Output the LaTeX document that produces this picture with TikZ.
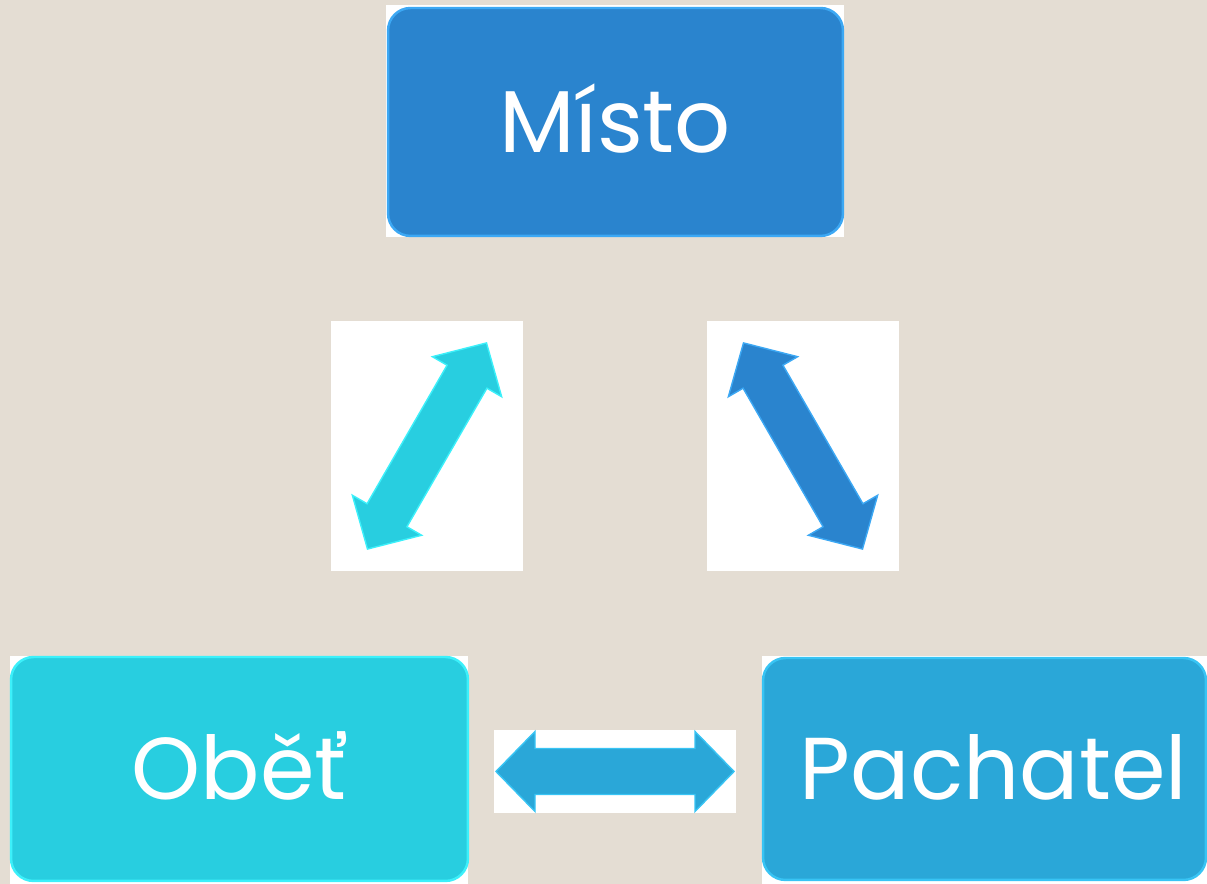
\documentclass[tikz,border=0pt]{standalone}
\usepackage{fontspec}
\setmainfont{Poppins}
\definecolor{pozadi}{HTML}{E4DDD3}
\definecolor{mistoc}{HTML}{2A84CE}
\definecolor{mistoe}{HTML}{3CA8F4}
\definecolor{obetc}{HTML}{28CEE0}
\definecolor{obete}{HTML}{3CF0FA}
\definecolor{pachc}{HTML}{2AA7D8}
\definecolor{pache}{HTML}{38C4F4}
\tikzset{
  panel/.style={fill=white, inner sep=0pt},
  box/.style={rounded corners=0.45cm, inner sep=0pt, text=white,
    font=\fontsize{50}{60}\selectfont, text height=35pt, text depth=0pt,
    line width=1.4pt},
  dblarrow/.pic={
    \path[pic actions] (-119,0) -- (-80,40) -- (-80,23) -- (80,23) -- (80,40)
      -- (119,0) -- (80,-40) -- (80,-23) -- (-80,-23) -- (-80,-40) -- cycle;
  }
}
\begin{document}
\begin{tikzpicture}[x=0.02cm, y=0.02cm]
    % Pozadí
    \fill[pozadi] (0,0) rectangle (1207,884);
    \useasboundingbox (0,0) rectangle (1207,884);
    \clip (0,0) rectangle (1207,884);

    % Bílé plochy
    \node[panel, minimum width=9.16cm, minimum height=4.64cm] (mistoP) at (615,763) {};
    \node[panel, minimum width=9.16cm, minimum height=4.6cm] (obetP) at (239,113) {};
    \node[panel, minimum width=8.96cm, minimum height=4.6cm] (pachP) at (986,113) {};
    \node[panel, minimum width=3.84cm, minimum height=5cm] (sipL) at (427,438) {};
    \node[panel, minimum width=3.84cm, minimum height=5cm] (sipP) at (803,438) {};
    \node[panel, minimum width=4.84cm, minimum height=1.66cm] (sipD) at (615,112.5) {};

    % Bloky
    \node[box, fill=mistoc, draw=mistoe, minimum width=9.1cm, minimum height=4.56cm]
        (misto) at (615.5,762) {Místo};
    \node[box, fill=obetc, draw=obete, minimum width=9.14cm, minimum height=4.48cm]
        (obet) at (239.5,115) {Oběť};
    \node[box, fill=pachc, draw=pache, minimum width=8.86cm, minimum height=4.44cm]
        (pach) at (984.5,115) {\hspace{0.36cm}Pachatel};

    % Šipky
    \pic[fill=obetc, draw=obete, line width=0.8pt, rotate=60] at (sipL.center) {dblarrow};
    \pic[fill=mistoc, draw=mistoe, line width=0.8pt, rotate=120] at (sipP.center) {dblarrow};
    \pic[fill=pachc, draw=pache, line width=0.8pt] at (sipD.center) {dblarrow};
\end{tikzpicture}
\end{document}
